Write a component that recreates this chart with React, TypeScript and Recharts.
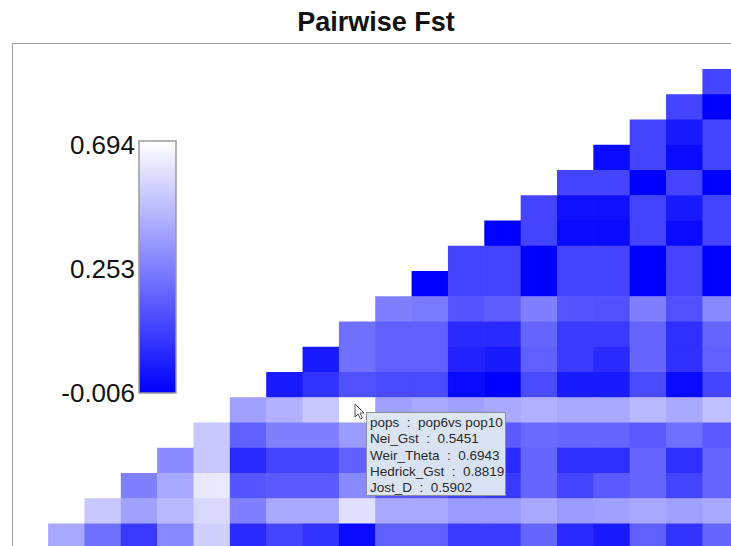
import React from "react";
import { ScatterChart, Scatter, XAxis, YAxis } from "recharts";

// ---- Data (pairwise Weir_Theta Fst, upper-right triangle; row r holds columns 18-r .. 18)
const row0 = [0.132];
const row1 = [0.132, -0.006];
const row2 = [0.132, 0.047, 0.132];
const row3 = [0.014, 0.132, 0.014, 0.132];
const row4 = [0.132, 0.132, -0.006, 0.132, -0.006];
const row5 = [0.132, 0.027, 0.027, 0.132, 0.047, 0.132];
const row6 = [-0.006, 0.132, 0.014, 0.014, 0.132, 0.014, 0.132];
const row7 = [0.132, 0.132, -0.006, 0.132, 0.132, -0.006, 0.132, -0.006];
const row8 = [-0.006, 0.132, 0.132, -0.006, 0.132, 0.132, -0.006, 0.132, -0.006];
const row9 = [0.255, 0.242, 0.167, 0.185, 0.255, 0.167, 0.157, 0.255, 0.157, 0.282];
const row10 = [0.221, 0.189, 0.189, 0.079, 0.079, 0.201, 0.112, 0.112, 0.201, 0.087, 0.201];
const row11 = [0.047, 0.221, 0.189, 0.189, 0.063, 0.047, 0.189, 0.112, 0.079, 0.201, 0.087, 0.189];
const row12 = [0.047, 0.098, 0.157, 0.144, 0.144, 0.014, -0.006, 0.144, 0.047, 0.047, 0.144, 0.014, 0.132];
const row13 = [0.365, 0.421, 0.504, 0.694, 0.365, 0.393, 0.365, 0.393, 0.421, 0.393, 0.393, 0.449, 0.393, 0.476];
const row14 = [0.504, 0.189, 0.255, 0.255, 0.345, 0.2, 0.2, 0.18, 0.177, 0.209, 0.201, 0.201, 0.177, 0.221, 0.177];
const row15 = [0.296, 0.504, 0.079, 0.132, 0.132, 0.189, 0.13, 0.13, 0.09, 0.079, 0.201, 0.087, 0.087, 0.201, 0.087, 0.201];
const row16 = [0.255, 0.393, 0.615, 0.167, 0.177, 0.177, 0.282, 0.17, 0.17, 0.13, 0.112, 0.201, 0.132, 0.177, 0.201, 0.132, 0.201];
const row17 = [0.504, 0.365, 0.449, 0.559, 0.255, 0.393, 0.393, 0.587, 0.393, 0.393, 0.345, 0.345, 0.393, 0.345, 0.365, 0.393, 0.365, 0.393];
const row18 = [0.393, 0.221, 0.112, 0.282, 0.532, 0.079, 0.132, 0.098, 0.014, 0.189, 0.189, 0.112, 0.112, 0.201, 0.079, 0.047, 0.189, 0.098, 0.201];
const fstRows = [row0, row1, row2, row3, row4, row5, row6, row7, row8, row9, row10, row11, row12, row13, row14, row15, row16, row17, row18];

// color scale ticks (top, middle, bottom of the colour bar)
const scaleTicks = [0.694, 0.253, -0.006];

// hovered cell tooltip
const tooltipKeys = ["pops", "Nei_Gst", "Weir_Theta", "Hedrick_Gst", "Jost_D"];
const tooltipValues = ["pop6vs pop10", "0.5451", "0.6943", "0.8819", "0.5902"];

const TITLE = "Pairwise Fst";

// ---- layout
const N = 19;
const CHART_W = 760;
const CHART_H = 570;
const M_LEFT = 48.1;
const M_TOP = 69;
const CELL_W = 36.35;
const CELL_H = 25.25;
const M_RIGHT = CHART_W - M_LEFT - CELL_W * N;
const M_BOTTOM = CHART_H - M_TOP - CELL_H * N;

const [VMAX, VMID, VMIN] = scaleTicks;

function fstColor(v: number) {
  let t = v <= VMID ? 0.5 * (v - VMIN) / (VMID - VMIN) : 0.5 + 0.5 * (v - VMID) / (VMAX - VMID);
  t = Math.max(0, Math.min(1, t));
  const c = Math.round(255 * t);
  return `rgb(${c},${c},255)`;
}

const cells = fstRows.flatMap((vals, r) =>
  vals.map((v, i) => ({ x: N - 1 - r + i + 0.5, y: r + 0.5, v }))
);

const CellShape = (props: any) => {
  const { cx, cy, payload } = props;
  if (cx == null || cy == null) return null;
  return (
    <rect
      x={cx - CELL_W / 2}
      y={cy - CELL_H / 2}
      width={CELL_W + 0.6}
      height={CELL_H + 0.6}
      fill={fstColor(payload.v)}
    />
  );
};

const BAR_X = 139;
const BAR_Y = 141;
const BAR_W = 37;
const BAR_H = 252;

export default function App() {
  return (
    <div
      style={{
        position: "absolute",
        left: 0,
        top: 0,
        width: 731,
        height: 546,
        overflow: "hidden",
        background: "#fff",
        fontFamily: "'Liberation Sans', Arial, sans-serif",
      }}
    >
      <div
        style={{
          position: "absolute",
          left: 0,
          top: 7,
          width: 752,
          textAlign: "center",
          fontSize: 27,
          fontWeight: "bold",
          color: "#111",
          lineHeight: "30px",
        }}
      >
        {TITLE}
      </div>
      <div
        style={{
          position: "absolute",
          left: 12,
          top: 43,
          width: 800,
          height: 600,
          border: "1.5px solid #a0a0a0",
        }}
      />
      <div style={{ position: "absolute", left: 0, top: 0 }}>
        <ScatterChart
          width={CHART_W}
          height={CHART_H}
          margin={{ top: M_TOP, left: M_LEFT, right: M_RIGHT, bottom: M_BOTTOM }}
        >
          <XAxis type="number" dataKey="x" domain={[0, N]} hide />
          <YAxis type="number" dataKey="y" domain={[0, N]} reversed hide />
          <Scatter data={cells} shape={CellShape} isAnimationActive={false} />
        </ScatterChart>
      </div>
      <svg
        width={731}
        height={546}
        style={{ position: "absolute", left: 0, top: 0, pointerEvents: "none" }}
      >
        <defs>
          <linearGradient id="fstGrad" x1="0" y1="0" x2="0" y2="1">
            <stop offset="0%" stopColor={fstColor(VMAX)} />
            <stop offset="50%" stopColor={fstColor(VMID)} />
            <stop offset="100%" stopColor={fstColor(VMIN)} />
          </linearGradient>
        </defs>
        <rect
          x={BAR_X}
          y={BAR_Y}
          width={BAR_W}
          height={BAR_H}
          fill="url(#fstGrad)"
          stroke="#9a9a9a"
          strokeWidth={1.5}
        />
        {scaleTicks.map((t, i) => (
          <text
            key={i}
            x={BAR_X - 4}
            y={BAR_Y + 4 + (i * (BAR_H - 4)) / 2}
            textAnchor="end"
            dominantBaseline="central"
            fontSize={26}
            fill="#111"
            fontFamily="'Liberation Sans', Arial, sans-serif"
          >
            {t.toFixed(3)}
          </text>
        ))}
        <path
          d="M355 404 L355 417 L358 414 L360.5 419 L362.5 418 L360 413 L364 413 Z"
          fill="#fff"
          stroke="#555"
          strokeWidth={1}
        />
      </svg>
      <div
        style={{
          position: "absolute",
          left: 366,
          top: 412,
          width: 140,
          height: 84,
          background: "rgba(222,231,242,0.97)",
          border: "1px solid #8a8f99",
          boxSizing: "border-box",
          padding: "2px 0 0 3px",
          fontSize: 13.5,
          lineHeight: "16.3px",
          color: "#2a2a2a",
          whiteSpace: "pre",
        }}
      >
        {tooltipKeys.map((k, i) => (
          <div key={k}>{`${k}  :  ${tooltipValues[i]}`}</div>
        ))}
      </div>
    </div>
  );
}
